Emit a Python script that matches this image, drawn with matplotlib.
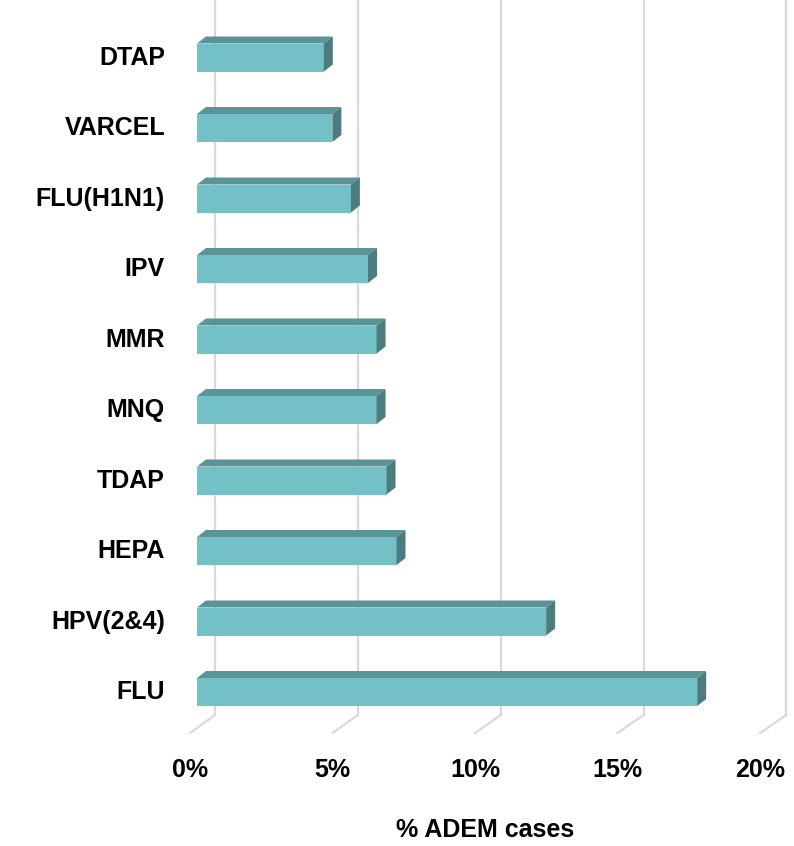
import matplotlib
matplotlib.use("Agg")
from matplotlib import pyplot as plt
from matplotlib.patches import Polygon

# data (percent of ADEM cases), bottom to top
vaccines = ["FLU", "HPV(2&4)", "HEPA", "TDAP", "MNQ", "MMR", "IPV", "FLU(H1N1)", "VARCEL", "DTAP"]
pct = [17.55, 12.25, 7.0, 6.65, 6.3, 6.3, 6.0, 5.4, 4.75, 4.45]
ticks = [0, 5, 10, 15, 20]
tick_labels = ["0%", "5%", "10%", "15%", "20%"]

W, H = 794, 846
PX_X = 28.5   # pixels per percent
PX_Y = 70.5   # pixels per category
X0, Y0 = 197, 692  # pixel of 0% / FLU centre

fig = plt.figure(figsize=(W / 100, H / 100), dpi=100)
ax = fig.add_axes([0, 0, 1, 1])
ax.set_xlim(-X0 / PX_X, (W - X0) / PX_X)
ax.set_ylim(-(H - Y0) / PX_Y, Y0 / PX_Y)
ax.axis("off")

# 3d-ish offsets in data units
dx = 9 / PX_X
dy = 7 / PX_Y
half = 14 / PX_Y

# back wall gridlines + floor slant
grid_c = "#d9d9d9"
back_off = 18 / PX_X
front_off = -7 / PX_X
y_floor_back = -23 / PX_Y
y_floor_front = -41 / PX_Y
for t in ticks:
    xb = t * 28.57 / PX_X + back_off
    ax.plot([xb, xb], [y_floor_back, Y0 / PX_Y], color=grid_c, lw=1.6, zorder=1)
    ax.plot([xb, t + front_off], [y_floor_back, y_floor_front], color=grid_c, lw=1.6, zorder=1)

front_c = "#73c1c6"
top_c = "#5a9497"
side_c = "#4a7d80"
font = dict(fontsize=18, fontweight="bold", family="Liberation Sans")
for i, v in enumerate(pct):
    y1, y2 = i - half, i + half
    ax.add_patch(Polygon([(0, y1), (v, y1), (v, y2), (0, y2)], closed=True,
                         facecolor=front_c, edgecolor="none", zorder=3))
    ax.add_patch(Polygon([(0, y2), (v, y2), (v + dx, y2 + dy), (dx, y2 + dy)], closed=True,
                         facecolor=top_c, edgecolor="none", zorder=3))
    ax.add_patch(Polygon([(v, y1), (v + dx, y1 + dy), (v + dx, y2 + dy), (v, y2)], closed=True,
                         facecolor=side_c, edgecolor="none", zorder=3))
    ax.text(-32 / PX_X, i, vaccines[i], ha="right", va="center", **font)

for t, lab in zip(ticks, tick_labels):
    ax.text(t + front_off, -78 / PX_Y, lab, ha="center", va="center", **font)

ax.text((485 - X0) / PX_X, -138 / PX_Y, "% ADEM cases", ha="center", va="center", **font)

fig.savefig("out.png", dpi=100)
